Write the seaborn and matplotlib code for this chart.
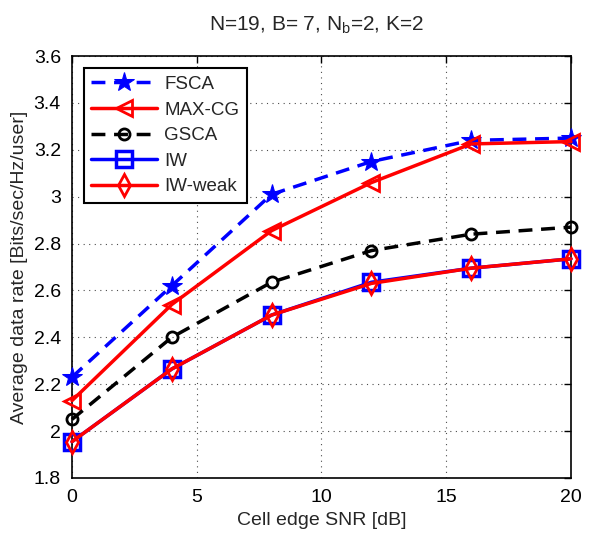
import numpy as np
import pandas as pd
import matplotlib
matplotlib.use("Agg")
import matplotlib.pyplot as plt
import seaborn as sns
from matplotlib.ticker import FuncFormatter

snr = [0, 4, 8, 12, 16, 20]
fsca = [2.23, 2.62, 3.01, 3.15, 3.24, 3.25]
maxcg = [2.13, 2.54, 2.855, 3.06, 3.225, 3.235]
gsca = [2.05, 2.40, 2.635, 2.77, 2.84, 2.87]
iw = [1.955, 2.265, 2.495, 2.635, 2.695, 2.735]
iw_weak = [1.955, 2.265, 2.495, 2.630, 2.695, 2.735]

series_names = ["FSCA", "MAX-CG", "GSCA", "IW", "IW-weak"]
series_vals = [fsca, maxcg, gsca, iw, iw_weak]

sns.set_style("white")
plt.rcParams['font.family'] = ['Liberation Sans', 'DejaVu Sans']
plt.rcParams['mathtext.fontset'] = 'custom'
plt.rcParams['mathtext.rm'] = 'Liberation Sans'
plt.rcParams['mathtext.it'] = 'Liberation Sans'

fig = plt.figure(figsize=(5.89, 5.33), dpi=100)
ax = fig.add_axes([0.1222, 0.1032, 0.8472, 0.7917])

styles = {
    "FSCA": dict(color="#0000ff", linestyle=(0, (4, 2.5)), marker="*", markersize=15,
                 markerfacecolor="#0000ff", markeredgecolor="#0000ff"),
    "MAX-CG": dict(color="#ff0000", linestyle="-", marker="<", markersize=11,
                   markerfacecolor="none", markeredgecolor="#ff0000", markeredgewidth=2),
    "GSCA": dict(color="black", linestyle=(0, (4, 2.5)), marker="o", markersize=8,
                 markerfacecolor="none", markeredgecolor="black", markeredgewidth=2),
    "IW": dict(color="#0000ff", linestyle="-", marker="s", markersize=11,
               markerfacecolor="none", markeredgecolor="#0000ff", markeredgewidth=2.5),
    "IW-weak": dict(color="#ff0000", linestyle="-", marker="d", markersize=11,
                    markerfacecolor="none", markeredgecolor="#ff0000", markeredgewidth=2),
}

for name, vals in zip(series_names, series_vals):
    df = pd.DataFrame({"snr": snr, "rate": vals})
    sns.lineplot(data=df, x="snr", y="rate", ax=ax, label=name, linewidth=2.5,
                 clip_on=False, zorder=3, **styles[name])

ax.set_xlim(0, 20)
ax.set_ylim(1.8, 3.6)
ax.set_xticks([0, 5, 10, 15, 20])
ax.set_yticks(np.round(np.arange(1.8, 3.61, 0.2), 1))
ax.yaxis.set_major_formatter(FuncFormatter(lambda v, p: f"{v:g}"))
ax.tick_params(direction="in", length=5, width=1, labelsize=14, colors="black",
               top=True, right=True, pad=8)
ax.grid(True, color="black", linestyle=(0, (1, 4)), linewidth=0.8, alpha=0.7)
for s in ax.spines.values():
    s.set_color("black")
    s.set_linewidth(1.2)

ax.set_xlabel("Cell edge SNR [dB]", fontsize=14, labelpad=4)
ax.set_ylabel("Average data rate [Bits/sec/Hz/user]", fontsize=14, labelpad=4)
ax.set_title(r"N=19, B= 7, N$_\mathrm{b}$=2, K=2", fontsize=15, pad=18, x=0.49)

leg = ax.legend(loc="upper left", fontsize=13.5, frameon=True, fancybox=False,
                edgecolor="black", handlelength=3.5, borderpad=0.4, labelspacing=0.45,
                handletextpad=0.4, bbox_to_anchor=(0.005, 0.993))
leg.get_frame().set_linewidth(1.5)
leg.get_frame().set_alpha(1)

fig.savefig("out.png", dpi=100)
